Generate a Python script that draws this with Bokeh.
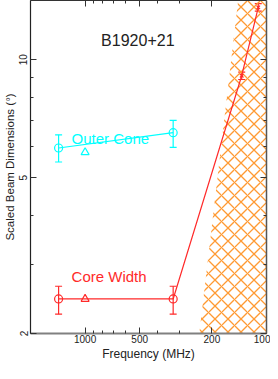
import math
from bokeh.plotting import figure
from bokeh.models import (LogAxis, FixedTicker, Range1d, Label, Whisker,
                          ColumnDataSource, CustomJSTickFormatter, TeeHead,
                          PrintfTickFormatter)
from bokeh.embed import file_html
from bokeh.resources import INLINE

# ---------------- data ----------------
outer_freq = [1400, 327]
outer_width = [5.95, 6.51]
outer_lo = [5.48, 5.97]
outer_hi = [6.43, 7.00]
outer_tri_freq = [1000]
outer_tri_width = [5.80]

core_freq = [1400, 327, 137, 111]
core_width = [2.45, 2.45, 9.1, 13.6]
core_lo = [2.24, 2.24, 8.9, 13.3]
core_hi = [2.64, 2.64, 9.3, 13.9]
core_tri_freq = [1000]
core_tri_width = [2.45]

scatter_freq = [241, 139, 90, 90]
scatter_width = [1.8, 16, 16, 1.8]

x_major = [100, 200, 500, 1000]
x_minor = [300, 400, 600, 700, 800, 900, 2000]
y_major = [2, 5, 10]
y_minor = [3, 4, 6, 7, 8, 9]

CYAN = "#00FFFF"
RED = "#FF2A2A"
ORANGE = "#FF9A33"
FONT = "Liberation Sans"

p = figure(width=270, height=363, x_axis_type="log", y_axis_type="log",
           x_range=Range1d(2000, 100), y_range=Range1d(2, 14.16),
           output_backend="svg", toolbar_location=None,
           min_border_left=0, min_border_right=4, min_border_top=0,
           min_border_bottom=0)
p.grid.visible = False
p.outline_line_color = None
p.background_fill_color = "white"
p.border_fill_color = "white"

# scattering-limited region
p.patch(scatter_freq, scatter_width, fill_color=None, fill_alpha=0,
        line_color=None, hatch_pattern="x", hatch_color=ORANGE,
        hatch_scale=13, hatch_weight=1.3)

# outer cone
p.line(outer_freq, outer_width, line_color=CYAN, line_width=1.2)
p.scatter(outer_freq, outer_width, marker="circle", size=8,
          fill_color=None, line_color=CYAN, line_width=1.2)
p.scatter(outer_tri_freq, outer_tri_width, marker="triangle", size=8,
          fill_color=None, line_color=CYAN, line_width=1.2)
osrc = ColumnDataSource(dict(x=outer_freq, lo=outer_lo, hi=outer_hi))
p.add_layout(Whisker(source=osrc, base="x", lower="lo", upper="hi",
                     line_color=CYAN, line_width=1.2,
                     lower_head=TeeHead(size=7, line_color=CYAN, line_width=1.2),
                     upper_head=TeeHead(size=7, line_color=CYAN, line_width=1.2)))

# core width
p.line(core_freq, core_width, line_color=RED, line_width=1.2)
p.scatter(core_freq[:2], core_width[:2], marker="circle", size=8,
          fill_color=None, line_color=RED, line_width=1.2)
p.scatter(core_freq[2:], core_width[2:], marker="x", size=5,
          line_color=RED, line_width=1.2)
p.scatter(core_tri_freq, core_tri_width, marker="triangle", size=8,
          fill_color=None, line_color=RED, line_width=1.2)
csrc = ColumnDataSource(dict(x=core_freq, lo=core_lo, hi=core_hi))
p.add_layout(Whisker(source=csrc, base="x", lower="lo", upper="hi",
                     line_color=RED, line_width=1.2,
                     lower_head=TeeHead(size=7, line_color=RED, line_width=1.2),
                     upper_head=TeeHead(size=7, line_color=RED, line_width=1.2)))

# labels
p.add_layout(Label(x=816, y=11.2, text="B1920+21", text_color="#222222",
                   text_font=FONT, text_font_size="16px",
                   text_baseline="alphabetic"))
p.add_layout(Label(x=1187, y=6.30, text="Outer Cone", text_color=CYAN,
                   text_font=FONT, text_font_size="15px",
                   text_baseline="alphabetic"))
p.add_layout(Label(x=1187, y=2.79, text="Core Width", text_color=RED,
                   text_font=FONT, text_font_size="15px",
                   text_baseline="alphabetic"))

def style(ax, color, width):
    ax.axis_line_color = color
    ax.axis_line_width = width
    ax.major_tick_in = 6
    ax.major_tick_out = 0
    ax.minor_tick_in = 3
    ax.minor_tick_out = 0
    ax.major_tick_line_color = "#333333"
    ax.minor_tick_line_color = "#333333"
    ax.major_label_text_font = FONT
    ax.major_label_text_font_size = "10px"
    ax.major_label_text_color = "#222222"
    ax.axis_label_text_font = FONT
    ax.axis_label_text_font_size = "12px"
    ax.axis_label_text_font_style = "normal"
    ax.axis_label_text_color = "#222222"

xa = p.xaxis[0]
xa.ticker = FixedTicker(ticks=x_major, minor_ticks=x_minor)
xa.formatter = PrintfTickFormatter(format="%d")
xa.axis_label = "Frequency (MHz)"
style(xa, "#808080", 2)
xa.major_label_standoff = 1
xa.axis_label_standoff = 1

ya = p.yaxis[0]
ya.ticker = FixedTicker(ticks=y_major, minor_ticks=y_minor)
ya.formatter = PrintfTickFormatter(format="%d")
ya.axis_label = "Scaled Beam Dimensions (\u00b0)"
ya.major_label_orientation = "vertical"
style(ya, "#222222", 1.2)
ya.axis_label_text_font_size = "11.5px"
ya.major_label_standoff = 3
ya.axis_label_standoff = 1

top = LogAxis(ticker=FixedTicker(ticks=x_major, minor_ticks=x_minor),
              formatter=CustomJSTickFormatter(code="return ''"))
style(top, "#333333", 1.2)
top.major_label_standoff = 0
top.major_label_text_font_size = "0px"
p.add_layout(top, "above")
right = LogAxis(ticker=FixedTicker(ticks=y_major, minor_ticks=y_minor),
                formatter=CustomJSTickFormatter(code="return ''"))
style(right, "#555555", 1.5)
right.major_label_standoff = 0
right.major_label_text_font_size = "0px"
p.add_layout(right, "right")

open("out.html", "w").write(file_html(p, INLINE))
